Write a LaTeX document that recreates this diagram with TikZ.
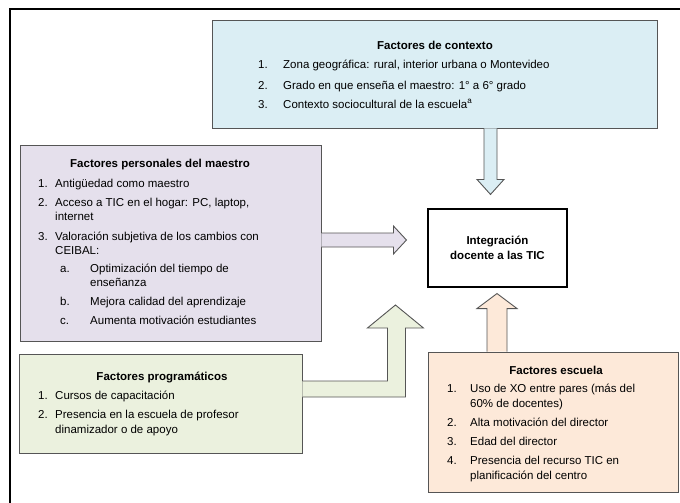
\documentclass[tikz,border=0pt]{standalone}
\usepackage{fontspec}
\setmainfont{Liberation Sans}
\usepackage{xcolor}
\usepackage{tikz}
\usetikzlibrary{positioning,calc}

\definecolor{ctxblue}{RGB}{219,238,244}
\definecolor{perlila}{RGB}{229,224,236}
\definecolor{progreen}{RGB}{235,241,222}
\definecolor{escpeach}{RGB}{253,233,217}
\definecolor{edge}{RGB}{85,85,85}

\tikzset{
  factor/.style={draw=edge,line width=0.9pt,inner sep=0pt},
  blockarrow/.style={draw=edge,line width=0.9pt,line join=miter},
  ttl/.style={anchor=base,inner sep=0pt,font=\fontsize{11.5}{14}\selectfont\bfseries},
  txt/.style={anchor=base west,inner sep=0pt,font=\fontsize{11.5}{14}\selectfont}
}

\begin{document}
\begin{tikzpicture}[x=1pt,y=-1pt]
\useasboundingbox (0,0) rectangle (680,503);

% marco
\draw[line width=2pt] (10,503) -- (10,9) -- (680,9);

% cajas
\node[factor,fill=ctxblue,minimum width=445pt,minimum height=108pt] (ctx) at (434.5,74) {};
\node[factor,fill=perlila,minimum width=301pt,minimum height=196pt] (per) at (170.5,243) {};
\node[factor,fill=progreen,minimum width=283pt,minimum height=99pt] (pro) at (160.5,403.5) {};
\node[factor,fill=escpeach,minimum width=250pt,minimum height=140pt] (esc) at (553,422) {};
\node[draw,line width=2.5pt,minimum width=139pt,minimum height=78pt,align=center,
      font=\fontsize{11.5}{15}\selectfont\bfseries] (tic) at (497.5,248) {Integración\\docente a las TIC};

% flechas
\draw[blockarrow,fill=ctxblue] ($(ctx.south)+(49.5,0)$) -- ++(0,51) -- ++(-7,0) -- ++(13.5,15) -- ++(13.5,-15) -- ++(-7,0) -- ++(0,-51);
\draw[blockarrow,fill=escpeach] ($(esc.north)+(-66,0)$) -- ++(0,-43) -- ++(-10,0) -- ++(20,-15) -- ++(20,15) -- ++(-10,0) -- ++(0,43);
\draw[blockarrow,fill=perlila] ($(per.east)+(0,-10)$) -- ++(72,0) -- ++(0,-7) -- ++(13,14) -- ++(-13,14) -- ++(0,-7) -- ++(-72,0);
\draw[blockarrow,fill=progreen] ($(pro.east)+(0,-22.5)$) -- ++(85,0) -- ++(0,-53) -- ++(-20,0) -- ++(28,-23) -- ++(28,23) -- ++(-18,0) -- ++(0,69) -- ++(-103,0);

% factores de contexto
\node[ttl] (ctxt) at (435,50) {Factores de contexto};
\node[txt] (ctx1n) at (258,69) {1.};
\node[txt] (ctx1) at (283,69) {Zona geográfica: rural, interior urbana o Montevideo};
\node[txt] (ctx2n) at (258,89) {2.};
\node[txt] (ctx2) at (283,89) {Grado en que enseña el maestro: 1° a 6° grado};
\node[txt] (ctx3n) at (258,108) {3.};
\node[txt] (ctx3) at (283,108) {Contexto sociocultural de la escuela\textsuperscript{a}};

% factores personales
\node[ttl] (pert) at (160,167) {Factores personales del maestro};
\node[txt] (per1n) at (38,187) {1.};
\node[txt] (per1) at (55,187) {Antigüedad como maestro};
\node[txt] (per2n) at (38,206) {2.};
\node[txt] (per2) at (55,206) {Acceso a TIC en el hogar: PC, laptop,};
\node[txt] (per2b) at (55,220) {internet};
\node[txt] (per3n) at (38,240) {3.};
\node[txt] (per3) at (55,240) {Valoración subjetiva de los cambios con};
\node[txt] (per3b) at (55,254) {CEIBAL:};
\node[txt] (peran) at (60,272) {a.};
\node[txt] (pera) at (90,272) {Optimización del tiempo de};
\node[txt] (perab) at (90,286) {enseñanza};
\node[txt] (perbn) at (60,305) {b.};
\node[txt] (perb) at (90,305) {Mejora calidad del aprendizaje};
\node[txt] (percn) at (60,324) {c.};
\node[txt] (perc) at (90,324) {Aumenta motivación estudiantes};

% factores programaticos
\node[ttl] (prot) at (162,380) {Factores programáticos};
\node[txt] (pro1n) at (38,399) {1.};
\node[txt] (pro1) at (55,399) {Cursos de capacitación};
\node[txt] (pro2n) at (38,418) {2.};
\node[txt] (pro2) at (55,418) {Presencia en la escuela de profesor};
\node[txt] (pro2b) at (55,433) {dinamizador o de apoyo};

% factores escuela
\node[ttl] (esct) at (556,374) {Factores escuela};
\node[txt] (esc1n) at (447,392) {1.};
\node[txt] (esc1) at (470,392) {Uso de XO entre pares (más del};
\node[txt] (esc1b) at (470,407) {60\% de docentes)};
\node[txt] (esc2n) at (447,426) {2.};
\node[txt] (esc2) at (470,426) {Alta motivación del director};
\node[txt] (esc3n) at (447,445) {3.};
\node[txt] (esc3) at (470,445) {Edad del director};
\node[txt] (esc4n) at (447,464) {4.};
\node[txt] (esc4) at (470,464) {Presencia del recurso TIC en};
\node[txt] (esc4b) at (470,479) {planificación del centro};
\end{tikzpicture}
\end{document}
